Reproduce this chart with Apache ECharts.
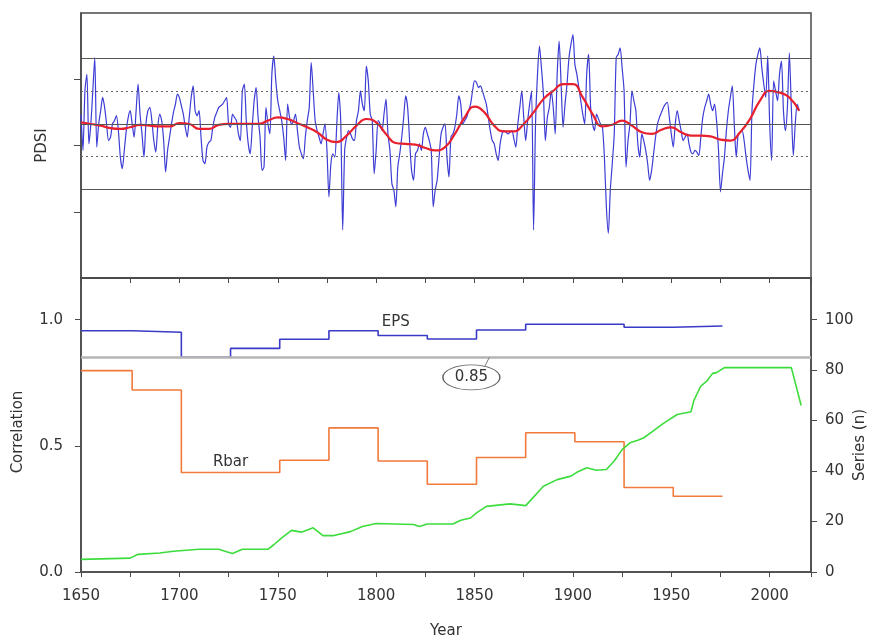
<!DOCTYPE html>
<html>
<head>
<meta charset="utf-8">
<script src="https://cdn.jsdelivr.net/npm/echarts@6/dist/echarts.min.js"></script>
<style>
html,body{margin:0;padding:0;background:#fff;}
#chart{width:871px;height:637px;}
</style>
</head>
<body>
<div id="chart"></div>
<script>
// ---------- DATA ----------
const pdsiStartYear = 1650;
// yearly PDSI reconstruction, 1650-2015
const pdsiValues = [
  1.9,-0.3,3.3,4.3,0.1,1.3,3.3,5.3,-0.1,1.3,
  2.1,2.9,2.3,1.3,0.3,0.5,1.3,1.5,1.8,0.9,
  -0.7,-1.4,-0.3,0.9,1.7,2.1,1.3,0.5,2.1,3.7,
  1.9,0.7,-0.7,1.3,2.1,2.3,1.5,0.3,-0.4,1.1,
  1.9,1.5,0.3,-1.6,-0.3,0.5,1.3,2.0,2.5,3.1,
  2.9,2.4,1.9,1.1,0.5,1.7,2.9,3.6,2.1,1.8,
  2.1,0.5,-0.9,-1.1,-0.1,0.2,0.3,1.1,1.7,2.0,
  2.3,2.4,2.5,2.7,2.9,1.3,1.1,1.9,1.7,1.5,
  0.7,0.3,3.3,3.7,1.5,0.1,-0.5,1.1,2.7,3.5,
  1.7,0.5,-1.5,-1.3,2.3,1.3,0.7,4.3,5.4,3.9,
  2.7,2.1,1.5,0.5,-0.9,2.5,1.7,1.3,1.5,1.9,
  0.9,-0.1,-0.5,-0.8,0.5,1.5,2.3,5.0,3.3,1.5,
  0.9,0.5,0.1,0.7,1.3,-0.3,-3.1,-1.1,-0.5,-0.7,
  1.3,3.2,1.5,-5.1,-0.3,0.5,0.9,0.7,0.4,0.3,
  1.5,2.1,3.3,2.5,2.1,4.8,3.9,1.9,1.5,-1.7,
  -0.3,1.5,1.3,0.9,1.9,2.8,0.7,-0.3,-2.3,-2.7,
  -3.7,-1.3,-0.5,0.5,1.7,3.0,2.3,0.3,-1.5,-2.1,
  -0.5,-0.3,0.1,-0.3,0.7,1.1,0.7,0.3,-0.3,-3.7,
  -2.7,-2.1,-0.7,0.7,1.1,1.3,-0.7,-1.9,0.5,0.7,
  1.1,1.9,3.0,2.5,1.3,1.5,1.7,2.1,2.5,3.3,
  3.9,3.8,3.5,3.6,3.3,2.9,2.5,1.7,0.9,0.3,
  0.1,-0.5,-0.9,0.1,0.7,0.9,0.8,0.7,0.8,0.9,
  0.4,-0.1,1.3,2.3,3.3,1.7,0.3,1.5,2.5,3.3,
  -5.1,1.3,4.3,6.0,4.7,3.1,0.3,1.7,2.3,3.3,
  2.3,0.7,4.3,6.3,3.7,1.1,2.5,3.7,5.3,6.1,
  6.7,4.9,4.3,3.5,2.7,1.9,1.3,4.3,5.5,2.3,
  1.3,0.9,1.9,1.6,1.3,1.1,-0.7,-3.7,-5.3,-2.7,
  -1.1,0.7,5.3,5.5,5.9,4.7,3.3,-1.3,0.3,1.3,
  3.3,2.7,2.1,0.1,-0.7,0.7,0.3,-0.3,-1.1,-2.1,
  -1.5,-0.5,0.5,1.3,1.7,2.0,2.3,2.5,2.6,1.7,
  0.7,-0.1,1.3,2.1,1.5,0.9,0.3,0.5,0.7,0.1,
  -0.4,-0.5,-0.3,-0.4,-0.6,0.5,1.7,2.3,2.7,3.1,
  2.5,2.1,2.5,1.5,-0.3,-2.8,-1.7,-0.7,0.9,2.1,
  2.9,3.6,1.3,-0.7,0.7,0.8,0.9,0.3,-0.7,-1.5,
  -2.1,2.1,3.7,4.9,5.5,5.9,4.7,3.7,2.9,5.4,
  1.3,-0.9,3.9,3.3,2.7,4.3,5.1,2.1,0.9,2.3,
  5.6,2.3,-0.6,1.3,2.5,2.1
];
// smoothed PDSI (red curve)
const smoothYears = [1650,1655,1660,1665,1670,1675,1680,1685,1690,1695,1700,1705,1710,1715,1720,1725,1730,1735,1740,1745,1750,1755,1760,1765,1770,1775,1780,1785,1790,1795,1800,1805,1810,1815,1820,1825,1830,1835,1840,1845,1850,1855,1860,1865,1870,1875,1880,1885,1890,1895,1900,1905,1910,1915,1920,1925,1930,1935,1940,1945,1950,1955,1960,1965,1970,1975,1980,1985,1990,1995,2000,2005,2010,2015];
const smoothValues = [1.4,1.3,1.2,1.05,1.0,1.1,1.25,1.2,1.15,1.15,1.35,1.3,1.0,1.0,1.25,1.3,1.3,1.3,1.3,1.5,1.7,1.6,1.35,1.1,0.8,0.35,0.2,0.6,1.2,1.6,1.4,0.7,0.15,0.1,0.05,-0.15,-0.3,-0.1,0.7,1.7,2.35,2.0,1.2,0.85,0.85,1.3,2.0,2.8,3.3,3.7,3.7,2.9,1.9,1.15,1.25,1.5,1.2,0.8,0.7,0.95,1.1,0.8,0.6,0.6,0.55,0.35,0.3,0.8,1.6,2.7,3.3,3.2,2.9,2.1];
// reference lines: mean ±1σ (dotted) and ±2σ (solid)
const refSolid = [5.24, 1.29, -2.65];
const refDotted = [3.26, -0.66];
const pdsiTicks = [-4, 0, 4];

// EPS (step, held until next year)
const epsYears = [1650,1676,1701,1726,1751,1776,1801,1826,1851,1876,1926,1951,1976];
const epsValues = [0.956,0.950,0.851,0.886,0.922,0.956,0.937,0.923,0.959,0.982,0.970,0.975,0.975];
// Rbar
const rbarYears = [1650,1676,1701,1751,1776,1801,1826,1851,1876,1901,1926,1951,1976];
const rbarValues = [0.798,0.721,0.394,0.443,0.571,0.440,0.348,0.454,0.552,0.516,0.335,0.300,0.300];
// number of series (right axis)
const nYears = [1650,1675,1679,1690,1697,1710,1720,1724,1727,1732,1745,1748,1752,1757,1762,1768,1773,1778,1787,1793,1800,1819,1822,1826,1839,1843,1848,1851,1856,1868,1876,1878,1885,1892,1899,1902,1907,1912,1917,1921,1925,1929,1933,1936,1940,1946,1953,1960,1961.5,1965,1968,1971,1973,1977,2011,2016];
const nValues = [5,5.5,7,7.5,8.2,9,9,8,7.3,9,9,10.8,13.5,16.5,15.8,17.5,14.4,14.4,16,18,19.2,18.8,18,19,19,20.5,21.4,23.4,26,27,26.3,28,34,36.6,38,39.5,41.3,40.3,40.6,44,48.5,51.2,52.2,53.2,55.4,58.9,62.4,63.5,68,73.7,75.6,78.7,79,81,81,66];
const epsThreshold = 0.85;

// annotation anchors (data coordinates)
const epsLabelAt = [1810, 0.99];
const rbarLabelAt = [1726, 0.436];
const thresholdLabelAt = [1848.4, 0.771];
const calloutTail = [[1855.2, 0.815], [1857.5, 0.85]];

// ---------- CHART ----------
const FONT = 'DejaVu Sans';
const TXT = '#333';
const AX = '#4a4a4a';
const pairs = (xs, ys) => xs.map((x, i) => [x, ys[i]]);
const pdsiData = pdsiValues.map((v, i) => [pdsiStartYear + i, v]);
const nameStyle = {color: TXT, fontFamily: FONT, fontSize: 15};

const chart = echarts.init(document.getElementById('chart'), null, {renderer: 'canvas'});
const option = {
  animation: false,
  backgroundColor: '#fff',
  grid: [
    {left: 81, right: 60, top: 13, height: 265, show: true, borderColor: AX, borderWidth: 1.5, outerBoundsMode: 'none', containLabel: false},
    {left: 81, right: 60, top: 278, height: 294, show: true, borderColor: AX, borderWidth: 1.5, outerBoundsMode: 'none', containLabel: false}
  ],
  xAxis: [
    {gridIndex: 0, type: 'value', min: 1650, max: 2021, interval: 25, position: 'bottom',
     axisLine: {onZero: false, lineStyle: {color: AX, width: 1.5}},
     axisTick: {show: true, length: 5, lineStyle: {color: AX}},
     axisLabel: {show: false}, splitLine: {show: false}},
    {gridIndex: 1, type: 'value', min: 1650, max: 2021, interval: 25, position: 'bottom',
     axisLine: {onZero: false, lineStyle: {color: AX, width: 1.5}},
     axisTick: {show: true, length: 5, lineStyle: {color: AX}},
     axisLabel: {formatter: v => (v % 50 === 0 ? String(v) : ''), color: TXT, fontFamily: FONT, fontSize: 15, margin: 17},
     splitLine: {show: false},
     name: 'Year', nameLocation: 'middle', nameGap: 52, nameMoveOverlap: false,
     nameTextStyle: nameStyle}
  ],
  yAxis: [
    {gridIndex: 0, type: 'value', min: -8, max: 8, interval: 4,
     axisLine: {show: true, onZero: false, lineStyle: {color: AX, width: 1.5}},
     axisTick: {show: true, length: 7, customValues: pdsiTicks, lineStyle: {color: AX}},
     axisLabel: {show: false}, splitLine: {show: false},
     name: 'PDSI', nameLocation: 'middle', nameGap: 31, nameRotate: 90, nameMoveOverlap: false,
     nameTextStyle: nameStyle},
    {gridIndex: 1, type: 'value', min: 0, max: 1.165, interval: 0.5, position: 'left',
     axisLine: {show: true, onZero: false, lineStyle: {color: AX, width: 1.5}},
     axisTick: {show: true, length: 6, lineStyle: {color: AX}},
     axisLabel: {formatter: v => v.toFixed(1), showMaxLabel: false, color: TXT, fontFamily: FONT, fontSize: 15, margin: 18},
     splitLine: {show: false},
     name: 'Correlation', nameLocation: 'middle', nameGap: 55, nameRotate: 90, nameMoveOverlap: false,
     nameTextStyle: Object.assign({padding: [0, 14, 0, 0]}, nameStyle)},
    {gridIndex: 1, type: 'value', min: 0, max: 116.5, interval: 20, position: 'right',
     axisLine: {show: true, onZero: false, lineStyle: {color: AX, width: 1.5}},
     axisTick: {show: true, length: 6, lineStyle: {color: AX}},
     axisLabel: {showMaxLabel: false, color: TXT, fontFamily: FONT, fontSize: 15, margin: 14},
     splitLine: {show: false},
     name: 'Series (n)', nameLocation: 'middle', nameGap: 42, nameRotate: 90, nameMoveOverlap: false,
     nameTextStyle: Object.assign({padding: [0, 40, 0, 0]}, nameStyle)}
  ],
  series: [
    {name: 'refs', type: 'line', xAxisIndex: 0, yAxisIndex: 0, data: [], z: 1,
     markLine: {silent: true, symbol: ['none', 'none'], label: {show: false}, animation: false,
       data: refSolid.map(v => ({yAxis: v, lineStyle: {color: '#555', width: 1, type: 'solid'}}))
         .concat(refDotted.map(v => ({yAxis: v, lineStyle: {color: '#666', width: 1, type: [2, 3]}})))}},
    {name: 'PDSI', type: 'line', xAxisIndex: 0, yAxisIndex: 0, data: pdsiData, z: 2,
     showSymbol: false, smooth: 0.25, lineStyle: {color: '#3d3dd6', width: 1.2}},
    {name: 'Smooth', type: 'line', xAxisIndex: 0, yAxisIndex: 0, data: pairs(smoothYears, smoothValues), z: 3,
     showSymbol: false, smooth: true, lineStyle: {color: '#e8202e', width: 2.2}},
    {name: 'EPS', type: 'line', xAxisIndex: 1, yAxisIndex: 1, data: pairs(epsYears, epsValues), z: 4,
     step: 'end', showSymbol: false, lineStyle: {color: '#3a3ac8', width: 1.6},
     markLine: {silent: true, symbol: ['none', 'none'], label: {show: false}, animation: false,
       data: [{yAxis: epsThreshold, lineStyle: {color: '#b4b4b4', width: 2.5, type: 'solid'}}]},
     markPoint: {silent: true, animation: false,
       data: [{coord: epsLabelAt, symbol: 'circle', symbolSize: 1, itemStyle: {color: 'rgba(0,0,0,0)'},
               label: {show: true, position: 'inside', formatter: 'EPS', color: TXT, fontFamily: FONT, fontSize: 15}}]}},
    {name: 'Rbar', type: 'line', xAxisIndex: 1, yAxisIndex: 1, data: pairs(rbarYears, rbarValues), z: 4,
     step: 'end', showSymbol: false, lineStyle: {color: '#f27a3c', width: 1.6},
     markLine: {silent: true, symbol: ['none', 'none'], label: {show: false}, animation: false,
       data: [[{coord: calloutTail[0], lineStyle: {color: '#777', width: 1, type: 'solid'}}, {coord: calloutTail[1]}]]},
     markPoint: {silent: true, animation: false,
       data: [
         {coord: rbarLabelAt, symbol: 'circle', symbolSize: 1, itemStyle: {color: 'rgba(0,0,0,0)'},
          label: {show: true, position: 'inside', formatter: 'Rbar', color: TXT, fontFamily: FONT, fontSize: 15}},
         {coord: thresholdLabelAt, symbol: 'circle', symbolSize: [57, 25],
          itemStyle: {color: '#fff', borderColor: '#666', borderWidth: 1},
          label: {show: true, position: 'inside', formatter: String(epsThreshold), color: TXT, fontFamily: FONT, fontSize: 15}}
       ]}},
    {name: 'n', type: 'line', xAxisIndex: 1, yAxisIndex: 2, data: pairs(nYears, nValues), z: 4,
     showSymbol: false, lineStyle: {color: '#3ddc3d', width: 1.6}}
  ]
};
chart.setOption(option);
</script>
</body>
</html>
